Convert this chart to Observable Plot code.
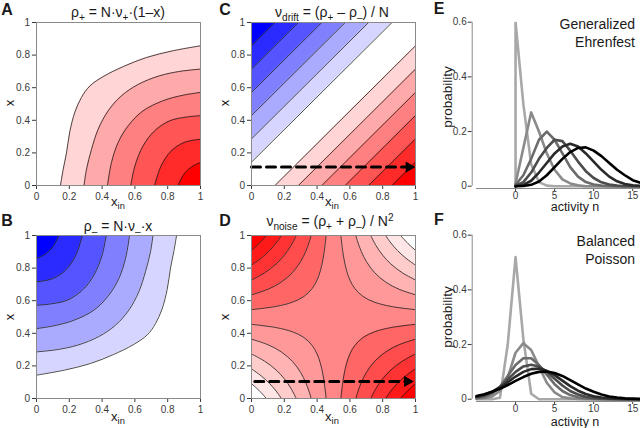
<!DOCTYPE html>
<html><head><meta charset="utf-8">
<script src="https://cdn.jsdelivr.net/npm/d3@7"></script>
<script src="https://cdn.jsdelivr.net/npm/@observablehq/plot@0.6"></script>
<style>
body{margin:0;background:#fff;}
#fig{position:relative;width:640px;height:428px;overflow:hidden;font-family:Arial,"Liberation Sans",Helvetica,sans-serif;color:#1a1a1a;background:#fff}
.lbl{position:absolute;white-space:nowrap;line-height:1;}
.lbl sub{font-size:0.72em;vertical-align:-0.38em;line-height:0}
.lbl sup{font-size:0.72em;vertical-align:0.5em;line-height:0}
</style></head><body><div id="fig"></div>
<script>
// ---------- tick labels ----------
const unitTicks = [0, 0.2, 0.4, 0.6, 0.8, 1];
const unitTickLabels = ["0", "0.2", "0.4", "0.6", "0.8", "1"];
const probTicks = [0, 0.2, 0.4, 0.6];
const probTickLabels = ["0", "0.2", "0.4", "0.6"];
const nTicks = [0, 5, 10, 15];
const nTickLabels = ["0", "5", "10", "15"];

// ---------- panel A: rho+ contours [x_in, x] ----------
const contoursA = [
  [[0.146,0],[0.163,0.10],[0.183,0.20],[0.203,0.33],[0.234,0.45],[0.274,0.54],[0.325,0.61],[0.41,0.67],[0.53,0.73],[0.67,0.785],[0.83,0.826],[1,0.857]],
  [[0.29,0],[0.305,0.10],[0.335,0.22],[0.376,0.345],[0.437,0.458],[0.518,0.55],[0.62,0.62],[0.75,0.673],[0.874,0.70],[1,0.714]],
  [[0.433,0],[0.457,0.14],[0.498,0.264],[0.559,0.366],[0.65,0.458],[0.772,0.52],[0.894,0.554],[1,0.571]],
  [[0.575,0],[0.6,0.12],[0.65,0.243],[0.72,0.335],[0.813,0.397],[0.915,0.42],[1,0.428]],
  [[0.72,0],[0.76,0.12],[0.82,0.21],[0.9,0.264],[1,0.284]],
  [[0.864,0],[0.9,0.07],[0.955,0.12],[1,0.14]]
];
// ---------- panel B: rho- contours ----------
const contoursB = [
  [[0,0.143],[0.17,0.174],[0.33,0.215],[0.47,0.27],[0.59,0.33],[0.675,0.39],[0.726,0.46],[0.766,0.55],[0.797,0.67],[0.817,0.80],[0.837,0.90],[0.854,1]],
  [[0,0.286],[0.126,0.30],[0.25,0.327],[0.38,0.38],[0.482,0.45],[0.563,0.542],[0.624,0.655],[0.665,0.78],[0.695,0.90],[0.71,1]],
  [[0,0.429],[0.106,0.446],[0.228,0.48],[0.35,0.542],[0.441,0.634],[0.502,0.736],[0.543,0.86],[0.567,1]],
  [[0,0.572],[0.085,0.58],[0.187,0.603],[0.28,0.665],[0.35,0.757],[0.4,0.88],[0.425,1]],
  [[0,0.716],[0.1,0.736],[0.18,0.79],[0.24,0.88],[0.28,1]],
  [[0,0.86],[0.045,0.88],[0.1,0.93],[0.136,1]]
];
// ---------- panel C: drift contour lines (edge intercepts) ----------
const driftBlueLeft = [0.143, 0.286, 0.429, 0.571, 0.714, 0.857];
const driftBlueTop  = [0.857, 0.714, 0.571, 0.429, 0.286, 0.143];
const driftRedBottom = [0.143, 0.286, 0.429, 0.571, 0.714, 0.857];
const driftRedRight  = [0.857, 0.714, 0.571, 0.429, 0.286, 0.143];
// ---------- panel D: noise contours, lower-left quadrant (others mirrored) ----------
const noiseLL = [
  [[0,0.091],[0.045,0.05],[0.091,0]],
  [[0,0.182],[0.06,0.138],[0.11,0.092],[0.15,0.046],[0.182,0]],
  [[0,0.273],[0.08,0.229],[0.15,0.175],[0.2,0.121],[0.24,0.063],[0.273,0]],
  [[0,0.364],[0.1,0.33],[0.18,0.287],[0.25,0.227],[0.3,0.159],[0.33,0.099],[0.35,0.046],[0.364,0]],
  [[0,0.455],[0.15,0.435],[0.25,0.409],[0.32,0.374],[0.37,0.325],[0.4,0.273],[0.42,0.216],[0.435,0.15],[0.445,0.087],[0.455,0]]
];
// dashed sweep arrows: fixed x, x_in from start to end
const arrowC = {x: 0.113, from: 0, to: 1};
const arrowD = {x: 0.105, from: 0.02, to: 0.99};

// ---------- panel E: Generalized Ehrenfest ----------
const nE = [0,0,1,2,3,4,5,6,7,8,9,10,11,12,13,14,15,16];
const pE1 = [0,.60,.30,.08,.015,.002,0,0,0,0,0,0,0,0,0,0,0,0];
const pE2 = [0,.01,.14,.27,.20,.12,.06,.025,.01,.003,0,0,0,0,0,0,0,0];
const pE3 = [0,.005,.04,.10,.17,.20,.17,.12,.07,.035,.015,.006,.002,0,0,0,0,0];
const pE4 = [0,.002,.015,.05,.10,.14,.17,.165,.13,.09,.055,.03,.014,.006,.002,0,0,0];
const pE5 = [0,0,.005,.02,.05,.085,.12,.145,.155,.145,.12,.09,.06,.035,.018,.008,.003,.001];
const pE6 = [0,0,.001,.005,.017,.04,.07,.10,.125,.14,.142,.13,.11,.085,.06,.04,.022,.012];
// ---------- panel F: Balanced Poisson ----------
const nF = [-5,-4,-3,-2,-1,0,1,2,3,4,5,6,7,8,9,10,11,12,13,14,15,16];
const pF1 = [0,0,0,.005,.2,.52,.22,.02,0,0,0,0,0,0,0,0,0,0,0,0,0,0];
const pF2 = [.002,.004,.01,.03,.08,.17,.205,.18,.12,.06,.025,.008,.003,.001,0,0,0,0,0,0,0,0];
const pF3 = [.004,.008,.02,.045,.085,.125,.15,.15,.125,.09,.055,.03,.015,.007,.003,.001,0,0,0,0,0,0];
const pF4 = [.007,.013,.026,.045,.072,.1,.12,.126,.12,.1,.075,.05,.03,.017,.009,.004,.002,.001,0,0,0,0];
const pF5 = [.009,.016,.027,.043,.062,.083,.1,.11,.112,.104,.088,.068,.048,.031,.019,.011,.006,.003,.0015,.001,0,0];
const pF6 = [.012,.018,.027,.038,.052,.067,.081,.093,.1,.101,.096,.085,.07,.054,.039,.027,.017,.01,.006,.003,.002,.001];
const greys = ["#a8a8a8","#8a8a8a","#6c6c6c","#4c4c4c","#2a2a2a","#000000"];

// ---------- helpers ----------
const fig = document.getElementById("fig");
const FONT = 'Arial, "Liberation Sans", Helvetica, sans-serif';
const fmt = (ticks, labels) => d => { const i = ticks.indexOf(d); return i < 0 ? "" : labels[i]; };
const redRamp = t => d3.interpolateRgb("#ffffff", "#ff0000")(t);
const blueRamp = t => d3.interpolateRgb("#ffffff", "#0000ff")(t);
const X = d => d[0], Y = d => d[1];
const lineStyle = {stroke: "#1e1e1e", strokeWidth: 0.8, curve: "catmull-rom", clip: true};

function place(svg, left, top) {
  svg.style.position = "absolute";
  svg.style.left = left + "px";
  svg.style.top = top + "px";
  svg.style.background = "transparent";
  svg.style.overflow = "visible";
  svg.style.maxWidth = "none";
  fig.appendChild(svg);
}
function unitPanel(marks, left, top) {
  const svg = Plot.plot({
    width: 204, height: 203, marginLeft: 36, marginRight: 4, marginTop: 22, marginBottom: 18,
    style: {fontFamily: FONT, fontSize: "10px", color: "#3a3a3a"},
    x: {domain: [0, 1], ticks: unitTicks, tickFormat: fmt(unitTicks, unitTickLabels), tickSize: 4, tickPadding: 3, label: null},
    y: {domain: [0, 1], ticks: unitTicks, tickFormat: fmt(unitTicks, unitTickLabels), tickSize: 4, tickPadding: 2.5, label: null},
    marks: [...marks, Plot.frame({stroke: "#8a8a8a"})]
  });
  place(svg, left, top);
}
function label(html, x, y, o = {}) {
  const d = document.createElement("div");
  d.className = "lbl";
  d.innerHTML = html;
  d.style.left = x + "px"; d.style.top = y + "px";
  d.style.fontSize = (o.size || 13) + "px";
  if (o.bold) d.style.fontWeight = "bold";
  if (o.color) d.style.color = o.color;
  let tr = o.anchor === "end" ? "translate(-100%,-50%)" : "translate(-50%,-50%)";
  if (o.rotate) tr += " rotate(-90deg)";
  d.style.transform = tr;
  fig.appendChild(d);
}

// ---------- A ----------
unitPanel([
  ...contoursA.map((c, i) => Plot.areaY(c, {x: X, y1: 0, y2: Y, fill: redRamp((i + 1) / 6), curve: "catmull-rom", clip: true})),
  ...contoursA.map(c => Plot.line(c, {x: X, y: Y, ...lineStyle}))
], 0, 0);
// ---------- B ----------
unitPanel([
  ...contoursB.map((c, i) => Plot.areaY(c, {x: X, y1: Y, y2: 1, fill: blueRamp((i + 1) / 6), curve: "catmull-rom", clip: true})),
  ...contoursB.map(c => Plot.line(c, {x: X, y: Y, ...lineStyle}))
], 0, 213);
// ---------- C ----------
const blueLines = driftBlueLeft.map((l, i) => [[0, l], [driftBlueTop[i], 1]]);
const redLines = driftRedBottom.map((b, i) => [[b, 0], [1, driftRedRight[i]]]);
function arrowMarks(a) {
  const pts = [[a.from, a.x], [a.to - 0.04, a.x]];
  return [
    Plot.line(pts, {x: X, y: Y, stroke: "#000", strokeWidth: 3, strokeDasharray: "9,6"}),
    Plot.dot([[a.to - 0.04, a.x]], {x: X, y: Y, symbol: "triangle", rotate: 90, r: 4.2, fill: "#000", stroke: null})
  ];
}
unitPanel([
  ...blueLines.map((c, i) => Plot.areaY(c, {x: X, y1: Y, y2: 1, fill: blueRamp((i + 1) / 6), clip: true})),
  ...redLines.map((c, i) => Plot.areaY(c, {x: X, y1: 0, y2: Y, fill: redRamp((i + 1) / 6), clip: true})),
  ...blueLines.map(c => Plot.line(c, {x: X, y: Y, ...lineStyle})),
  ...redLines.map(c => Plot.line(c, {x: X, y: Y, ...lineStyle})),
  ...arrowMarks(arrowC)
], 215, 0);
// ---------- D ----------
const mirror = (c, fx, fy) => c.map(([a, b]) => [fx ? 1 - a : a, fy ? 1 - b : b]);
const order = [4, 3, 2, 1, 0];
const dMarks = [Plot.frame({fill: redRamp(0.47), stroke: null})];
for (const k of order) {
  const c = noiseLL[k];
  dMarks.push(Plot.areaY(c, {x: X, y1: 0, y2: Y, fill: redRamp(k / 10), curve: "catmull-rom", clip: true}));
  dMarks.push(Plot.areaY(mirror(c, true, true), {x: X, y1: Y, y2: 1, fill: redRamp(k / 10), curve: "catmull-rom", clip: true}));
  dMarks.push(Plot.areaY(mirror(c, false, true), {x: X, y1: Y, y2: 1, fill: redRamp((10 - k) / 10), curve: "catmull-rom", clip: true}));
  dMarks.push(Plot.areaY(mirror(c, true, false), {x: X, y1: 0, y2: Y, fill: redRamp((10 - k) / 10), curve: "catmull-rom", clip: true}));
}
for (const c of noiseLL) {
  for (const [fx, fy] of [[false, false], [true, true], [false, true], [true, false]]) {
    dMarks.push(Plot.line(mirror(c, fx, fy), {x: X, y: Y, ...lineStyle}));
  }
}
unitPanel([...dMarks, ...arrowMarks(arrowD)], 215, 213);

// ---------- E / F ----------
function distPanel(n, series, top) {
  const svg = Plot.plot({
    width: 220, height: 205, marginLeft: 51.7, marginRight: 0, marginTop: 21.7, marginBottom: 17,
    style: {fontFamily: FONT, fontSize: "10px", color: "#3a3a3a"},
    x: {domain: [-5, 16], insetLeft: 4.3, ticks: nTicks, tickFormat: fmt(nTicks, nTickLabels), tickSize: 3, tickPadding: 0.5, label: null},
    y: {domain: [0, 0.6], insetBottom: 2.3, ticks: probTicks, tickFormat: fmt(probTicks, probTickLabels), tickSize: 4, tickPadding: 1.5, label: null},
    marks: [
      Plot.ruleX([-5], {y1: 0, y2: 0.6, dx: -4.3, stroke: "#8a8a8a"}),
      Plot.ruleY([0], {x1: -5, x2: 16, dy: 2.3, stroke: "#8a8a8a"}),
      ...series.map((p, i) => Plot.line(p, {x: n, y: p, stroke: greys[i], strokeWidth: 2.6, strokeLinejoin: "round", clip: true}))
    ]
  });
  place(svg, 420, top);
}
distPanel(nE, [pE1, pE2, pE3, pE4, pE5, pE6], 0);
distPanel(nF, [pF1, pF2, pF3, pF4, pF5, pF6], 213);

// ---------- text ----------
label("A", 7, 9.5, {size: 16, bold: true});
label("B", 7, 221, {size: 16, bold: true});
label("C", 225, 9.5, {size: 16, bold: true});
label("D", 225, 221, {size: 16, bold: true});
label("E", 439, 8.5, {size: 16, bold: true});
label("F", 439, 220, {size: 16, bold: true});

label("ρ<sub>+</sub> = N·ν<sub>+</sub>·(1–x)", 118, 11.5, {size: 14});
label("ρ<sub>–</sub> = N·ν<sub>–</sub>·x", 118, 226, {size: 14});
label("ν<sub>drift</sub> = (ρ<sub>+</sub> – ρ<sub>–</sub>) / N", 332, 12, {size: 14});
label("ν<sub>noise</sub> = (ρ<sub>+</sub> + ρ<sub>–</sub>) / N<sup>2</sup>", 330, 221, {size: 14});

for (const [cx, cy] of [[8.5, 103], [8.5, 317], [224, 103], [224, 317]]) label("x", cx, cy, {size: 13, rotate: true});
for (const [cx, cy] of [[118, 201], [118, 415.5], [332, 201], [332, 415.5]]) label("x<sub>in</sub>", cx, cy, {size: 13});

label("Generalized", 635, 24, {size: 14, anchor: "end"});
label("Ehrenfest", 635, 42, {size: 14, anchor: "end"});
label("Balanced", 635, 241, {size: 14, anchor: "end"});
label("Poisson", 635, 259, {size: 14, anchor: "end"});
label("probability", 448, 97, {size: 13.5, rotate: true});
label("probability", 448, 317, {size: 13.5, rotate: true});
label("activity n", 575, 207, {size: 12.5});
label("activity n", 575, 422, {size: 12.5});
</script></body></html>
